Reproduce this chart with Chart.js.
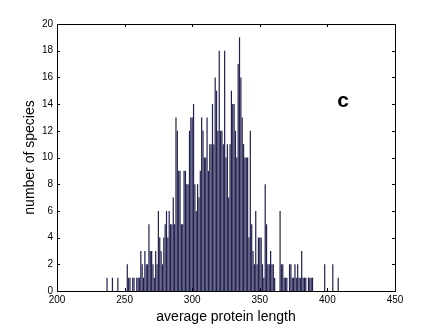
<!DOCTYPE html>
<html><head><meta charset="utf-8">
<script src="https://cdn.jsdelivr.net/npm/chart.js@4/dist/chart.umd.min.js"></script>
<style>html,body{margin:0;padding:0;background:#fff;} #wrap{width:436px;height:328px;position:relative;}</style>
</head><body><div id="wrap"><canvas id="c" width="436" height="328"></canvas></div>
<script>
// Histogram: number of species per average protein length bin (bin width 1, first bin = 236)
const binStart = 236;
const counts = [
  0,1,0,0,0,1,0,0,0,1,0,0,0,0,0,0,
  2,1,1,0,1,1,0,1,1,1,3,2,1,3,2,2,5,3,3,2,
  1,3,2,6,4,3,2,4,5,6,4,6,5,5,7,5,13,12,9,9,5,5,9,9,8,8,
  12,13,13,14,8,6,8,7,9,13,12,10,10,13,9,11,11,14,11,16,15,12,18,12,12,11,18,10,11,
  7,11,15,14,14,12,10,17,19,16,13,11,10,10,10,4,12,5,3,2,6,2,4,
  4,4,2,1,8,5,2,2,3,2,2,1,0,0,0,6,2,2,1,1,1,0,2,2,1,1,2,1,2,1,1,3,1,1,1,0,1,1,1,1,
  0,0,0,0,0,0,0,0,2,0,0,0,0,0,2,0,0,0,1
];
const xTicks = [200,250,300,350,400,450];
const yTicks = [0,2,4,6,8,10,12,14,16,18,20];
const xTitle = 'average protein length';
const yTitle = 'number of species';
const panelLabel = 'c';

const points = counts.map((v,i)=>({x: binStart + i, y: v}));

const FONT = '"Liberation Sans", Arial, Helvetica, sans-serif';

const frame = {
  id: 'frame',
  afterDraw(chart) {
    const {ctx, chartArea:a, scales:{x, y}} = chart;
    ctx.save();
    ctx.strokeStyle = '#000';
    ctx.lineWidth = 1;
    ctx.strokeRect(Math.round(a.left)+0.5, Math.round(a.top)+0.5, Math.round(a.right-a.left), Math.round(a.bottom-a.top));
    ctx.beginPath();
    const tl = 3;
    xTicks.forEach(t => {
      const px = Math.round(x.getPixelForValue(t)) + 0.5;
      ctx.moveTo(px, a.bottom); ctx.lineTo(px, a.bottom - tl);
      ctx.moveTo(px, a.top); ctx.lineTo(px, a.top + tl);
    });
    yTicks.forEach(t => {
      const py = Math.round(y.getPixelForValue(t)) + 0.5;
      ctx.moveTo(a.left, py); ctx.lineTo(a.left + tl, py);
      ctx.moveTo(a.right, py); ctx.lineTo(a.right - tl, py);
    });
    ctx.stroke();
    ctx.fillStyle = '#000';
    ctx.textAlign = 'center';
    ctx.textBaseline = 'middle';
    ctx.font = '14px ' + FONT;
    ctx.fillText(xTitle, (a.left + a.right)/2, 317);
    ctx.save();
    ctx.translate(30, (a.top + a.bottom)/2);
    ctx.rotate(-Math.PI/2);
    ctx.fillText(yTitle, 0, 0);
    ctx.restore();
    ctx.font = 'bold 21px ' + FONT;
    ctx.fillText(panelLabel, 343, 101);
    ctx.restore();
  }
};

new Chart(document.getElementById('c'), {
  type: 'bar',
  data: { datasets: [{
    data: points,
    backgroundColor: '#222250',
    borderWidth: 0,
    barPercentage: 0.9,
    categoryPercentage: 1.0
  }]},
  options: {
    responsive: false,
    devicePixelRatio: 1,
    animation: false,
    layout: { padding: { top: 24, right: 41, bottom: 0, left: 0 } },
    plugins: { legend: { display: false }, tooltip: { enabled: false } },
    scales: {
      x: {
        type: 'linear', min: 200, max: 450, offset: false,
        grid: { display: false, drawTicks: false },
        border: { display: false },
        ticks: { stepSize: 50, color: '#000', font: { size: 10, family: FONT }, padding: 3, maxRotation: 0 },
        afterBuildTicks(s){ s.ticks = xTicks.map(v=>({value:v})); },
        afterFit(s){ s.height = 37; }
      },
      y: {
        min: 0, max: 20,
        grid: { display: false, drawTicks: false },
        border: { display: false },
        ticks: { stepSize: 2, color: '#000', font: { size: 10, family: FONT }, padding: 4 },
        afterBuildTicks(s){ s.ticks = yTicks.map(v=>({value:v})); },
        afterFit(s){ s.width = 57; }
      }
    }
  },
  plugins: [frame]
});
</script></body></html>
